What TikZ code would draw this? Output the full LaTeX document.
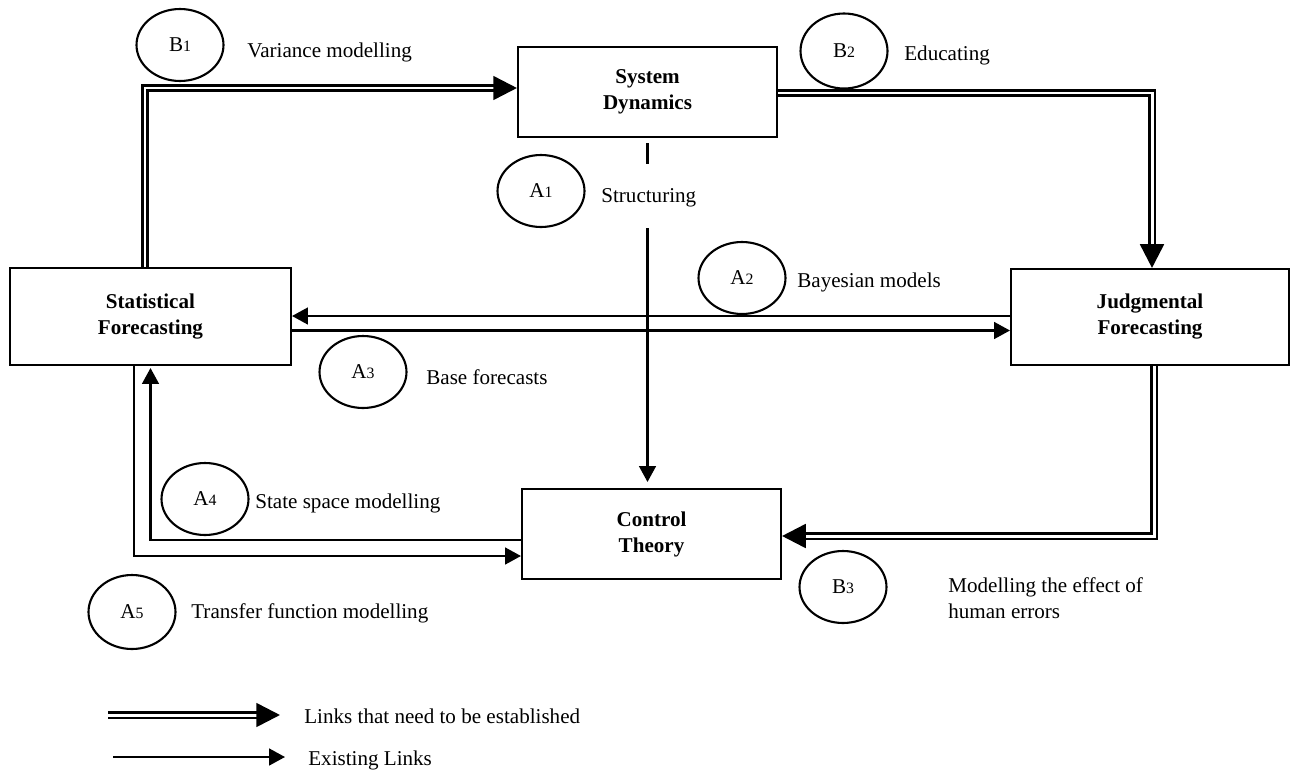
\documentclass[tikz,border=0pt]{standalone}
\usepackage{fontspec}
\setmainfont{Liberation Serif}
\usetikzlibrary{shapes.geometric, arrows.meta}

\newcommand{\tagno}[2]{#1{\fontsize{9}{9}\selectfont #2}}

\begin{document}
\begin{tikzpicture}[x=0.02cm, y=-0.02cm, font=\fontsize{12}{14.8}\selectfont]
  \tikzstyle{block} = [draw, rectangle, line width=1.2pt, align=center, font=\fontsize{12}{14.8}\selectfont\bfseries]
  \tikzstyle{tag} = [draw, ellipse, line width=1.2pt, minimum width=1.74cm, minimum height=1.44cm, inner sep=0pt]
  \tikzstyle{lbl} = [inner sep=0pt, anchor=base west]
  \tikzstyle{link} = [draw, line width=1.2pt, -{Triangle[length=9pt, width=9.5pt]}]
  \tikzstyle{need} = [draw, line width=1.5pt, double, double distance=1.7pt, -{Triangle[length=13.5pt, width=13.5pt]}]
  \useasboundingbox (0,0) rectangle (1291,771);

  \node [block, minimum width=5.18cm, minimum height=1.8cm] (sd) at (647.5,92) {System\\Dynamics};
  \node [block, minimum width=5.62cm, minimum height=1.94cm] (stat) at (150.5,316.5) {Statistical\\Forecasting};
  \node [block, minimum width=5.56cm, minimum height=1.92cm] (judg) at (1150,317) {Judgmental\\Forecasting};
  \node [block, minimum width=5.18cm, minimum height=1.8cm] (ctrl) at (651.5,534) {Control\\Theory};

  \node [tag] (b1) at (180,45) {\tagno{B}{1}};
  \node [tag, minimum height=1.5cm] (b2) at (844,51) {\tagno{B}{2}};
  \node [tag] (a1) at (541,191) {\tagno{A}{1}};
  \node [tag] (a2) at (742,278) {\tagno{A}{2}};
  \node [tag] (a3) at (363,372) {\tagno{A}{3}};
  \node [tag] (a4) at (205,499) {\tagno{A}{4}};
  \node [tag, minimum height=1.48cm] (a5) at (132,612) {\tagno{A}{5}};
  \node [tag] (b3) at (843,587) {\tagno{B}{3}};

  \node [lbl] (b1txt) at (247,57) {Variance modelling};
  \node [lbl] (b2txt) at (904,60) {Educating};
  \node [lbl] (a1txt) at (601,202) {Structuring};
  \node [lbl] (a2txt) at (797,287) {Bayesian models};
  \node [lbl] (a3txt) at (426,384) {Base forecasts};
  \node [lbl] (a4txt) at (255,508) {State space modelling};
  \node [lbl] (a5txt) at (191,618) {Transfer function modelling};
  \node [lbl, anchor=west, align=left] (b3txt) at (948,598) {Modelling the effect of\\human errors};

  \draw [need] ([xshift=-0.11cm]stat.north) |- ([yshift=0.08cm]sd.west);
  \draw [need] ([yshift=-0.02cm]sd.east) -| ([xshift=0.04cm]judg.north);
  \draw [need] ([xshift=0.08cm]judg.south) |- ([yshift=-0.04cm]ctrl.east);

  \draw [line width=1.2pt] ([yshift=-0.1cm]sd.south) -- ++(0,21);
  \draw [link] ([yshift=-1.8cm]sd.south) -- ([yshift=0.12cm]sd.south |- ctrl.north);
  \draw [link] ([yshift=0.02cm]judg.west) -- ([yshift=0.02cm]judg.west -| stat.east);
  \draw [link] ([yshift=-0.28cm]stat.east) -- ([yshift=-0.28cm]stat.east -| judg.west);
  \draw [link] ([yshift=-0.12cm]ctrl.west) -| ([yshift=-0.04cm]stat.south);
  \draw [link] ([xshift=-0.33cm]stat.south) |- ([yshift=-0.44cm]ctrl.west);

  \coordinate (needA) at (108,715);
  \coordinate (needB) at (280,715);
  \coordinate (hasA) at (113,757);
  \coordinate (hasB) at (285,757);
  \draw [need] (needA) -- (needB);
  \draw [link] (hasA) -- (hasB);
  \node [lbl] (needtxt) at (304,723) {Links that need to be established};
  \node [lbl] (hastxt) at (308,765) {Existing Links};
\end{tikzpicture}
\end{document}
